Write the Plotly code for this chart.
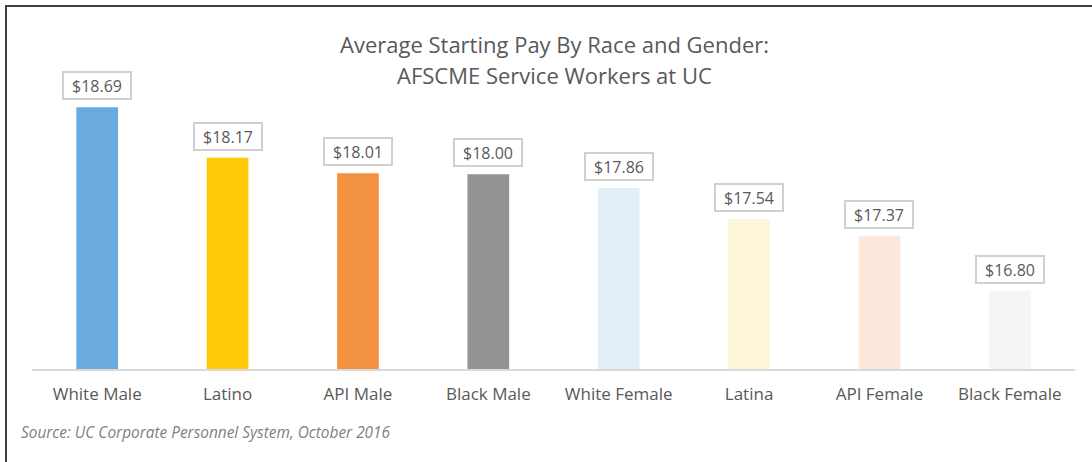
import plotly.graph_objects as go

categories = ["White Male", "Latino", "API Male", "Black Male",
              "White Female", "Latina", "API Female", "Black Female"]
pay = [18.69, 18.17, 18.01, 18.00, 17.86, 17.54, 17.37, 16.80]
colors = ["#6AABDF", "#FFC90A", "#F39342", "#939393",
          "#E3EFF8", "#FDF6D9", "#FCE9DC", "#F4F5F5"]
title_lines = ["Average Starting Pay By Race and Gender:", "AFSCME Service Workers at UC"]
source_text = "Source: UC Corporate Personnel System, October 2016"

FONT = "'Open Sans', sans-serif"
W, H = 1092, 462
ML, MR, MT, MB = 32, 17, 77, 93
pw, ph = W - ML - MR, H - MT - MB


def px_x(x):
    return (x - ML) / pw


def px_y(y):
    return (H - MB - y) / ph


fig = go.Figure(go.Bar(
    x=categories, y=pay, marker=dict(color=colors, line=dict(width=0)),
    hoverinfo="x+y",
))

for c, v in zip(categories, pay):
    fig.add_annotation(
        x=c, y=v, text=f"${v:.2f}", showarrow=False, yanchor="bottom",
        yshift=7, width=60, height=19, align="center",
        font=dict(family=FONT, size=16, color="#595959"),
        bordercolor="#D0D0D0", borderwidth=2, borderpad=3, bgcolor="white",
    )

for i, line in enumerate(title_lines):
    fig.add_annotation(
        xref="paper", yref="paper", x=px_x(554), y=px_y(44 + 31 * i),
        xanchor="center", yanchor="middle", showarrow=False, text=line,
        font=dict(family=FONT, size=22, color="#595959"),
    )

fig.add_annotation(
    xref="paper", yref="paper", x=px_x(19), y=px_y(432),
    xanchor="left", yanchor="middle", showarrow=False, text=source_text,
    font=dict(family=FONT, size=15.4, color="#7F7F7F", style="italic"),
)

# outer chart border (extends past the visible bottom/right edges)
fig.add_shape(
    type="rect", xref="paper", yref="paper",
    x0=px_x(6), x1=px_x(W + 20), y0=px_y(H + 20), y1=px_y(6),
    line=dict(color="#404040", width=2), fillcolor="rgba(0,0,0,0)",
)

fig.update_layout(
    width=W, height=H,
    margin=dict(l=ML, r=MR, t=MT, b=MB),
    paper_bgcolor="white", plot_bgcolor="white",
    bargap=0.68,
    showlegend=False,
    xaxis=dict(showgrid=False, showline=True, linecolor="#D9D9D9", linewidth=2,
               ticks="", ticklabelstandoff=9,
               tickfont=dict(family=FONT, size=17, color="#595959")),
    yaxis=dict(range=[16, 19], visible=False, showgrid=False, zeroline=False),
)

fig.write_html("out.html", config={"displayModeBar": False},
               post_script="document.body.style.margin='0';")
